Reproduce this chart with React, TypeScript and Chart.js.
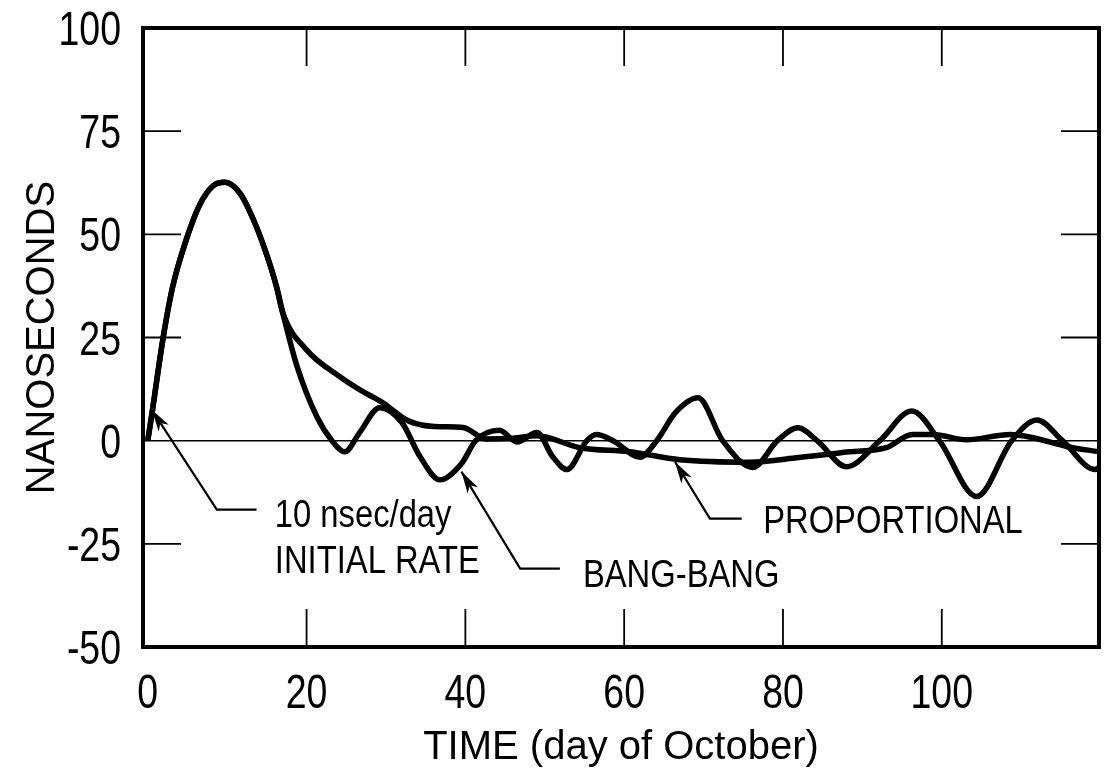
import React, { useEffect, useRef } from "react";
import { Chart, registerables } from "chart.js";

Chart.register(...registerables);

// ---- Data ----
const bangX = [0, 0.6, 1.9, 3.1, 4.9, 6.5, 8.2, 9.7, 11.6, 13.3, 14.9, 16.2, 17, 18.8, 21.3, 23.2, 24.8, 26.7, 29.2, 32, 34.3, 36.8, 39.5, 41.3, 44.3, 46.5, 49, 51, 52.8, 55.3, 56.5, 58.6, 62, 64.1, 66.5, 69.3, 72.4, 76.2, 79.3, 81.9, 84.3, 88, 92.2, 96.2, 99.7, 104.4, 108.8, 112, 115.2, 119.3, 119.8];
const bangY = [0, 7.5, 24.5, 37, 49, 57, 61.7, 62.6, 60, 53.6, 45.5, 37.4, 31, 18, 5.8, 0, -2.7, 2, 8, 4.4, -3.9, -9.5, -5.6, 0, 2.5, -0.3, 2, -3.9, -7, 0, 1.5, 0, -4, 0, 6.9, 10.4, 0, -6.5, 0, 3.1, 0, -6.3, 0, 7.2, 0, -13.5, 0, 5, 0, -7, -6.5];

const propX = [0, 0.6, 1.9, 3.1, 4.9, 6.5, 8.2, 9.7, 11.6, 13.3, 14.9, 16.2, 17, 20, 24.2, 27, 29.6, 32.6, 34.5, 36.8, 39.7, 42.7, 46, 49, 54.4, 60.7, 67, 75.8, 82, 88.4, 93, 96.3, 98.9, 103.1, 108.6, 111.5, 115.7, 119.8];
const propY = [0, 7.5, 24.5, 37, 49, 57, 61.7, 62.6, 60, 53.6, 45.5, 37.4, 31, 22, 15.5, 12, 9.2, 5, 3.8, 3.4, 3.2, 0.4, 0.6, 1.2, -1.7, -2.7, -4.6, -5.2, -4.1, -2.7, -1.7, 1.5, 1.5, 0.2, 1.5, 0.7, -1.4, -2.7];

const xTickValues = [0, 20, 40, 60, 80, 100];
const yTickValues = [-50, -25, 0, 25, 50, 75, 100];
const xInnerTicks = [20, 40, 60, 80, 100];
const yInnerTicks = [-25, 25, 50, 75];

const xTitle = "TIME (day of October)";
const yTitle = "NANOSECONDS";

// annotation labels (data coordinates of the text's left baseline)
const noteTexts = ["10 nsec/day", "INITIAL RATE", "BANG-BANG", "PROPORTIONAL"];
const noteX = [16.0, 16.0, 54.8, 77.5];
const noteY = [-20.8, -32.0, -35.4, -22.3];

// leader arrows: tip -> elbow -> end (data coordinates)
const arrowTipX = [0.5, 39.5, 66.4];
const arrowTipY = [7.5, -7.5, -5.1];
const arrowElbowX = [8.7, 46.9, 70.8];
const arrowElbowY = [-16.7, -31.0, -18.9];
const arrowEndX = [13.7, 51.9, 74.8];

const SANS = "'Liberation Sans', Arial, Helvetica, sans-serif";

function narrowText(ctx: any, text: string, x: number, y: number, size: number, squeeze: number, align: string) {
  ctx.save();
  ctx.font = `${size}px ${SANS}`;
  ctx.textAlign = align;
  ctx.textBaseline = "alphabetic";
  ctx.translate(x, y);
  ctx.scale(squeeze, 1);
  ctx.fillText(text, 0, 0);
  ctx.restore();
}

const decorPlugin = {
  id: "decor",
  beforeDatasetsDraw(chart: any) {
    const { ctx, chartArea: a, scales } = chart;
    const xs = scales.x;
    const ys = scales.y;
    const L = 38;
    ctx.save();
    ctx.strokeStyle = "#000";
    ctx.lineWidth = 1.8;
    ctx.beginPath();
    xInnerTicks.forEach((v) => {
      const px = xs.getPixelForValue(v);
      ctx.moveTo(px, a.bottom);
      ctx.lineTo(px, a.bottom - L);
      ctx.moveTo(px, a.top);
      ctx.lineTo(px, a.top + L);
    });
    yInnerTicks.forEach((v) => {
      const py = ys.getPixelForValue(v);
      ctx.moveTo(a.left, py);
      ctx.lineTo(a.left + L, py);
      ctx.moveTo(a.right, py);
      ctx.lineTo(a.right - L, py);
    });
    ctx.stroke();
    ctx.restore();

    // tick labels (condensed)
    ctx.save();
    ctx.fillStyle = "#000";
    xs.ticks.forEach((t: any) => {
      narrowText(ctx, String(t.value), xs.getPixelForValue(t.value), a.bottom + 61, 48, 0.78, "center");
    });
    ys.ticks.forEach((t: any) => {
      narrowText(ctx, String(t.value), a.left - 22, ys.getPixelForValue(t.value) + 17, 48, 0.78, "right");
    });
    ctx.restore();
  },
  afterDatasetsDraw(chart: any) {
    const { ctx, chartArea: a, scales } = chart;
    const xs = scales.x;
    const ys = scales.y;
    ctx.save();
    // frame
    ctx.strokeStyle = "#000";
    ctx.lineWidth = 4;
    ctx.strokeRect(a.left, a.top, a.right - a.left, a.bottom - a.top);

    // arrows
    ctx.lineWidth = 2.2;
    ctx.fillStyle = "#000";
    for (let i = 0; i < arrowTipX.length; i++) {
      const tx = xs.getPixelForValue(arrowTipX[i]);
      const ty = ys.getPixelForValue(arrowTipY[i]);
      const ex = xs.getPixelForValue(arrowElbowX[i]);
      const ey = ys.getPixelForValue(arrowElbowY[i]);
      const fx = xs.getPixelForValue(arrowEndX[i]);
      ctx.beginPath();
      ctx.moveTo(fx, ey);
      ctx.lineTo(ex, ey);
      ctx.lineTo(tx, ty);
      ctx.stroke();
      const ang = Math.atan2(ty - ey, tx - ex);
      const len = 22;
      const half = 6;
      const bx = tx - Math.cos(ang) * len;
      const by = ty - Math.sin(ang) * len;
      const nx = -Math.sin(ang);
      const ny = Math.cos(ang);
      ctx.beginPath();
      ctx.moveTo(tx, ty);
      ctx.lineTo(bx + nx * half, by + ny * half);
      ctx.lineTo(tx - Math.cos(ang) * len * 0.72, ty - Math.sin(ang) * len * 0.72);
      ctx.lineTo(bx - nx * half, by - ny * half);
      ctx.closePath();
      ctx.fill();
    }

    // labels
    ctx.fillStyle = "#000";
    for (let i = 0; i < noteTexts.length; i++) {
      narrowText(ctx, noteTexts[i], xs.getPixelForValue(noteX[i]), ys.getPixelForValue(noteY[i]), 39, 0.84, "left");
    }
    ctx.restore();
  },
};

export default function App() {
  const ref = useRef<HTMLCanvasElement>(null);

  useEffect(() => {
    if (!ref.current) return;
    const toPts = (xs: number[], ys: number[]) => xs.map((x, i) => ({ x, y: ys[i] }));
    const chart = new Chart(ref.current, {
      type: "line",
      data: {
        datasets: [
          {
            label: "PROPORTIONAL",
            data: toPts(propX, propY),
            borderColor: "#000",
            borderWidth: 5.5,
            pointRadius: 0,
            fill: false,
            cubicInterpolationMode: "monotone",
          },
          {
            label: "BANG-BANG",
            data: toPts(bangX, bangY),
            borderColor: "#000",
            borderWidth: 5.5,
            pointRadius: 0,
            fill: false,
            cubicInterpolationMode: "monotone",
          },
        ],
      },
      options: {
        animation: false,
        responsive: false,
        devicePixelRatio: 1,
        layout: { padding: { left: 0, top: 28, right: 6, bottom: 0 } },
        plugins: { legend: { display: false }, tooltip: { enabled: false } },
        scales: {
          x: {
            type: "linear",
            min: -0.6,
            max: 119.8,
            afterBuildTicks: (s: any) => {
              s.ticks = xTickValues.map((v) => ({ value: v }));
            },
            afterFit: (s: any) => {
              s.height = 135;
            },
            grid: { display: false, drawTicks: false },
            border: { display: false },
            ticks: { display: false },
            title: {
              display: true,
              text: xTitle,
              color: "#000",
              font: { family: SANS, size: 40 },
              padding: { top: 0, bottom: 10 },
            },
          },
          y: {
            type: "linear",
            min: -50,
            max: 100,
            afterBuildTicks: (s: any) => {
              s.ticks = yTickValues.map((v) => ({ value: v }));
            },
            afterFit: (s: any) => {
              s.width = 143;
            },
            grid: {
              drawTicks: false,
              color: (c: any) => (c.tick && c.tick.value === 0 ? "#000" : "rgba(0,0,0,0)"),
              lineWidth: 1.5,
            },
            border: { display: false },
            ticks: { display: false },
            title: {
              display: true,
              text: yTitle,
              color: "#000",
              font: { family: SANS, size: 40 },
              padding: { top: 19, bottom: 0 },
            },
          },
        },
      },
      plugins: [decorPlugin],
    } as any);
    return () => chart.destroy();
  }, []);

  return (
    <div style={{ position: "fixed", left: 0, top: 0, width: 1105, height: 782, background: "#fff" }}>
      <canvas ref={ref} width={1105} height={782} style={{ display: "block" }} />
    </div>
  );
}
